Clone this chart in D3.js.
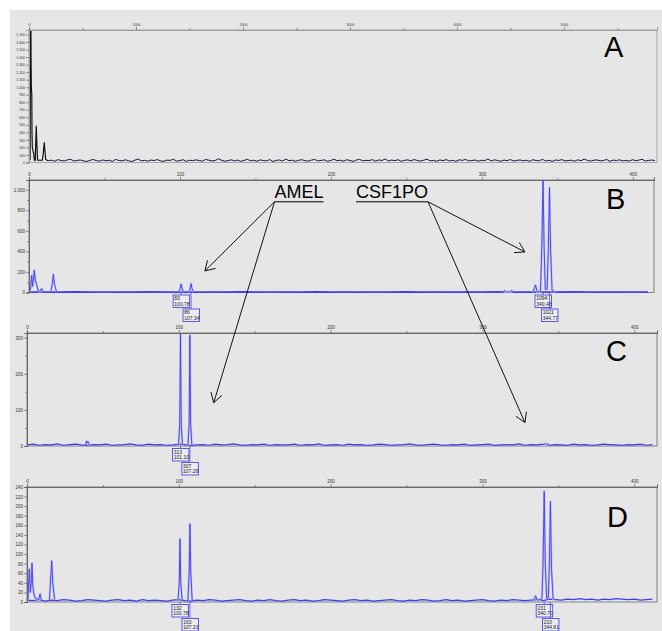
<!DOCTYPE html>
<html>
<head>
<meta charset="utf-8">
<title>STR electropherogram panels</title>
<script src="https://d3js.org/d3.v7.min.js"></script>
<style>
  body { margin: 0; background: #fff; }
  svg { display: block; font-family: "Liberation Sans", Arial, sans-serif; }
</style>
</head>
<body>
<svg id="chart" width="662" height="631"></svg>
<script>
// ---- data ----
// panel A: raw scan units on x, rfu on y
var aNoise = [24,31,17,38,26,20,35,42,19,28,33,22,14,29,40,25,18,34,23,30,15,41,27,21,36,24,13,31,46,22,29,18,33,26,39,21,16,32,28,43,19,25,37,14,30,23,35,27,17,40,32,21,26,50,29,18,24,36,20,33,15,28,42,23,30,17,35,26,22,38,14,27,34,19,45,25,31,16,29,37,23,18,32,40,21,28,35,17,26,43,24,30,19,36,27,15,33,41,22,29,25,38,18,34,27,46,20,32,24,37,16,28,35,23,39,26,19,31,44,22,27,17,34,25,38,20,29,15,36,28,41,22,26,33,18,30,24,47,21,35,27,16,32,25,39,19,28,34,22,30,17,37,26,23,42,20,29,15,33,27,38,21,25,31,18,36,24,45,28,19,30,34,22,27,40,16,32,26,35,21,29,18,37,24,31,43,20,27,33,25];
var aPeaks = [
  [[0,30],[10,40],[13,1200],[16,2600],[19,1400],[22,1007],[26,900],[28,400],[31,200],[35,175],[38,150],[44,120],[50,30],[58,25],[63,250],[68,485],[73,250],[80,30],[125,30],[133,120],[138,200],[143,263],[148,170],[156,40],[180,24]]
];

// panel B: size (bp) on x, rfu on y
var bNoise = [4,5,3,6,4,5,3,4,6,5,4,3,5,4,6,3,5,4,4,6,3,5,4,5,3,6,4,5,4,3,5,6,4,3,5,4,6,5,4,3,5,4];
var bPeaks = [
  [[0.5,4],[1.2,60],[1.8,167],[2.4,60],[2.9,120],[3.5,218],[4.2,120],[5.1,73],[6.0,20],[7.2,8],[8.4,40],[9.4,6]],
  [[14.4,6],[15.4,80],[16.1,176],[16.9,80],[18.2,8]],
  [[99.2,4],[100.2,40],[100.78,83],[101.4,40],[102.4,4]],
  [[105.8,4],[106.8,40],[107.34,86],[107.9,40],[108.9,4]],
  [[314,4],[315,20],[316,6],[319,5],[319.7,22],[320.6,5]],
  [[333.8,4],[335.5,73],[336.6,8],[338.8,8],[339.7,450],[340.48,1094],[341.2,450],[342.0,30],[343.2,30],[344.0,420],[344.77,1021],[345.5,420],[346.5,10],[347.7,15],[348.6,4]]
];
var bCallHeights = [83, 86, 1094, 1021];
var bCallSizes = [100.78, 107.34, 340.48, 344.77];

// panel C
var cNoise = [3,5,2,4,3,6,2,4,5,3,2,4,3,5,2,3,4,6,3,2,5,3,4,2,3,5,4,2,3,4,2,5,3,4,6,3,2,4,3,5,2,4,3,3,5,2,4,3,6,2,3,4,2,5,3,4,2,3,5,4,2,3,4,6,3,2,4,5,3,2,4,3,5,2,3,4,5,2,3,4,3,6,2,4,3,5,2,4,3,2,5,3,4,2,3,5,4,3,2,4,3,5,2,4];
var cPeaks = [
  [[38.5,3],[39.2,14],[39.6,8],[40.2,12],[41,3]],
  [[99.8,3],[100.6,60],[101.10,313],[101.6,60],[102.4,3]],
  [[106.0,3],[106.8,60],[107.29,307],[107.8,60],[108.6,3]],
  [[340,3],[341,7.5],[342,3],[343,6],[344,3]]
];
var cCallHeights = [313, 307];
var cCallSizes = [101.10, 107.29];

// panel D
var dNoise = [4,3,5,2,4,3,5,4,2,3,5,4,3,2,4,5,3,4,2,5,3,4,3,2,4,5,3,2,4,3,5,4,2,3,4,5,3,2,4,3,5,3,2,4,5,3,4,2,3,5,4,3,2,4,5,3,4,2,3,4,5,3,2,4,3,5,4,2,3,5,3,4,2,3,4,5,3,2,4,3,5,4,3,4,5,3,6,5,4,6,5,7,5,6,4,6,5,7,6,5,6,4,5,6];
var dPeaks = [
  [[0.6,3],[1.5,69],[2.2,20],[2.8,40],[3.3,81],[3.9,30],[4.8,13],[5.5,8],[7.8,5],[8.6,17],[9.4,5]],
  [[14.8,4],[15.6,50],[16.3,86],[17.0,40],[18.2,5]],
  [[99.5,4],[100.3,40],[100.78,132],[101.3,40],[102.2,4]],
  [[106.0,4],[106.8,60],[107.33,163],[107.9,60],[108.8,4]],
  [[333.8,4],[335,13],[336,4],[339.2,6],[339.9,80],[340.70,231],[341.4,80],[342.3,8],[343.4,8],[344.1,80],[344.81,210],[345.5,70],[346.6,4]]
];
var dCallHeights = [132, 163, 231, 210];
var dCallSizes = [100.78, 107.33, 340.70, 344.81];

// tick values
var aXMajor = [0,1000,2000,3000,4000,5000];
var aXMinor = [500,1500,2500,3500,4500,5500];
var aYTicks = d3.range(0, 1701, 100);
var sizeMajor = [0,100,200,300,400];
var sizeMinor = [50,150,250,350];
var bYMajor = [0,200,400,600,800,1000];
var bYMinor = [100,300,500,700,900];
var cYMajor = [0,100,200,300];
var cYMinor = [50,150,250];
var dYMajor = [0,20,40,60,80,100,120,140,160,180,200,220,240];

// ---- layout ----
var panels = [
  { id: "A", left: 29, right: 657, top: 30, bottom: 162.5, xMax: 5870, yMax: 1760,
    noise: aNoise, noiseStart: 180, noiseStep: 30, peaks: aPeaks, color: "#161645", width: 1,
    xMajor: aXMajor, xMinor: aXMinor, yMajor: aYTicks, yMinor: [], tickFont: 3.5, frame: "#9a9a9a",
    letterX: 604, letterY: 57 },
  { id: "B", left: 29, right: 654, top: 180, bottom: 292.5, xMax: 414, yMax: 1095,
    noise: bNoise, noiseStart: 0, noiseStep: 10, peaks: bPeaks, color: "#3d3df2", width: 1.7,
    xMajor: sizeMajor, xMinor: sizeMinor, yMajor: bYMajor, yMinor: bYMinor, tickFont: 4.5, frame: "#666",
    calls: [bCallHeights, bCallSizes], letterX: 606, letterY: 209 },
  { id: "C", left: 27, right: 657, top: 333, bottom: 446, xMax: 415, yMax: 313,
    noise: cNoise, noiseStart: 0, noiseStep: 4, peaks: cPeaks, color: "#3d3df2", width: 1.2,
    xMajor: sizeMajor, xMinor: sizeMinor, yMajor: cYMajor, yMinor: cYMinor, tickFont: 4.5, frame: "#666",
    calls: [cCallHeights, cCallSizes], letterX: 606, letterY: 361 },
  { id: "D", left: 27, right: 657, top: 487, bottom: 602, xMax: 415, yMax: 240,
    noise: dNoise, noiseStart: 0, noiseStep: 4, peaks: dPeaks, color: "#3d3df2", width: 1.2,
    xMajor: sizeMajor, xMinor: sizeMinor, yMajor: dYMajor, yMinor: [], tickFont: 4.5, frame: "#666",
    calls: [dCallHeights, dCallSizes], letterX: 607, letterY: 527 }
];

var svg = d3.select("#chart");
var defs = svg.append("defs");

// grey page behind everything
svg.append("rect").attr("x", 10).attr("y", 10).attr("width", 652).attr("height", 621).attr("fill", "#e6e6e6");

var scales = {};

panels.forEach(function (p) {
  var x = d3.scaleLinear().domain([0, p.xMax]).range([p.left, p.right]);
  var y = d3.scaleLinear().domain([0, p.yMax]).range([p.bottom, p.top]);
  scales[p.id] = { x: x, y: y, p: p };

  var g = svg.append("g").attr("class", "panel panel-" + p.id);

  defs.append("clipPath").attr("id", "clip" + p.id)
    .append("rect")
    .attr("x", p.left).attr("y", p.top)
    .attr("width", p.right - p.left).attr("height", p.bottom - p.top + 2);

  // frame
  g.append("rect")
    .attr("x", p.left).attr("y", p.top)
    .attr("width", p.right - p.left).attr("height", p.bottom - p.top)
    .attr("fill", "none").attr("stroke", p.frame).attr("stroke-width", 0.8);

  // trace
  var line = d3.line().x(function (d) { return x(d[0]); }).y(function (d) { return y(d[1]); });
  var plot = g.append("g").attr("clip-path", "url(#clip" + p.id + ")");

  var noisePts = p.noise.map(function (v, i) { return [p.noiseStart + i * p.noiseStep, v]; })
    .filter(function (d) { return d[0] <= p.xMax + p.noiseStep; });
  plot.append("path").datum(noisePts)
    .attr("d", line).attr("fill", "none")
    .attr("stroke", p.color).attr("stroke-width", p.width).attr("stroke-linejoin", "round");

  // pale halo under the blue peaks, like the doubled trace in the scan
  if (p.id !== "A") {
    plot.selectAll("path.halo").data(p.peaks).enter().append("path")
      .attr("class", "halo")
      .attr("d", line).attr("fill", "none")
      .attr("stroke", "#c2c2f2").attr("stroke-width", 2.2).attr("stroke-linejoin", "round");
  }
  plot.selectAll("path.peak").data(p.peaks).enter().append("path")
    .attr("class", "peak")
    .attr("d", line).attr("fill", "none")
    .attr("stroke", p.id === "A" ? "#111" : p.color)
    .attr("stroke-width", p.id === "A" ? 1.2 : 0.9)
    .attr("stroke-linejoin", "round");

  // top axis (minor then major)
  var fmt = function (d) { return p.id === "A" ? (d % 1000 === 0 ? d : "") : d; };
  var xMin = g.append("g").attr("transform", "translate(0," + p.top + ")")
    .call(d3.axisTop(x).tickValues(p.xMinor).tickSize(2).tickFormat(""));
  var xMaj = g.append("g").attr("transform", "translate(0," + p.top + ")")
    .call(d3.axisTop(x).tickValues(p.xMajor).tickSize(3).tickPadding(1).tickFormat(fmt));

  // left axis
  var yMin = g.append("g").attr("transform", "translate(" + p.left + ",0)")
    .call(d3.axisLeft(y).tickValues(p.yMinor).tickSize(2).tickFormat(""));
  var yMaj = g.append("g").attr("transform", "translate(" + p.left + ",0)")
    .call(d3.axisLeft(y).tickValues(p.yMajor).tickSize(3).tickPadding(1));

  [xMin, xMaj, yMin, yMaj].forEach(function (a) {
    a.select(".domain").attr("stroke", p.frame).attr("stroke-width", 0.8);
    a.selectAll(".tick line").attr("stroke", "#555").attr("stroke-width", 0.6);
    a.selectAll(".tick text").attr("font-size", p.tickFont).attr("fill", "#333")
      .attr("font-family", "Liberation Sans, Arial, sans-serif");
  });

  // panel letter
  g.append("text").attr("x", p.letterX).attr("y", p.letterY)
    .attr("font-size", 29).attr("fill", "#000").text(p.id);

  // allele call boxes under the peaks
  if (p.calls) {
    var heights = p.calls[0], sizes = p.calls[1];
    heights.forEach(function (h, i) {
      var cx = x(sizes[i]);
      var row = i % 2;
      var top = p.bottom + 2.5 + row * 14;
      g.append("line")
        .attr("x1", cx).attr("x2", cx).attr("y1", p.bottom).attr("y2", top)
        .attr("stroke", "#4a4ae6").attr("stroke-width", 0.8);
      g.append("rect")
        .attr("x", cx - 8).attr("y", top).attr("width", 16.5).attr("height", 12.5)
        .attr("fill", "#ececf2").attr("stroke", "#4a4ae6").attr("stroke-width", 0.9);
      g.append("text").attr("x", cx - 6.8).attr("y", top + 5.4)
        .attr("font-size", 5).attr("fill", "#222").text(h);
      g.append("text").attr("x", cx - 6.8).attr("y", top + 10.8)
        .attr("font-size", 5).attr("fill", "#222").text(sizes[i].toFixed(2));
    });
  }
});

// ---- locus annotations ----
var loci = [
  { name: "AMEL", x: 274.5, y: 198, anchor: "left",
    targets: [["B", 116.5, 210], ["C", 123, 120]] },
  { name: "CSF1PO", x: 356, y: 198, anchor: "right",
    targets: [["B", 328.5, 395], ["C", 328, 65]] }
];

var ann = svg.append("g").attr("class", "annotations");
loci.forEach(function (l) {
  var t = ann.append("text").attr("x", l.x).attr("y", l.y)
    .attr("font-size", 18).attr("fill", "#000").text(l.name);
  var w = t.node().getComputedTextLength();
  var uy = l.y + 3.8;
  ann.append("line").attr("x1", l.x).attr("x2", l.x + w).attr("y1", uy).attr("y2", uy)
    .attr("stroke", "#000").attr("stroke-width", 1);
  var ox = l.anchor === "left" ? l.x : l.x + w;
  l.targets.forEach(function (tg) {
    var s = scales[tg[0]];
    var tx = s.x(tg[1]), ty = s.y(tg[2]);
    ann.append("line").attr("x1", ox).attr("y1", uy).attr("x2", tx).attr("y2", ty)
      .attr("stroke", "#111").attr("stroke-width", 1);
    var ang = Math.atan2(uy - ty, ox - tx);
    var len = 11, spread = 0.55;
    var p1 = [tx + len * Math.cos(ang - spread), ty + len * Math.sin(ang - spread)];
    var p2 = [tx + len * Math.cos(ang + spread), ty + len * Math.sin(ang + spread)];
    ann.append("path")
      .attr("d", "M" + p1 + "L" + tx + "," + ty + "L" + p2)
      .attr("fill", "none").attr("stroke", "#111").attr("stroke-width", 1);
  });
});
</script>
</body>
</html>
